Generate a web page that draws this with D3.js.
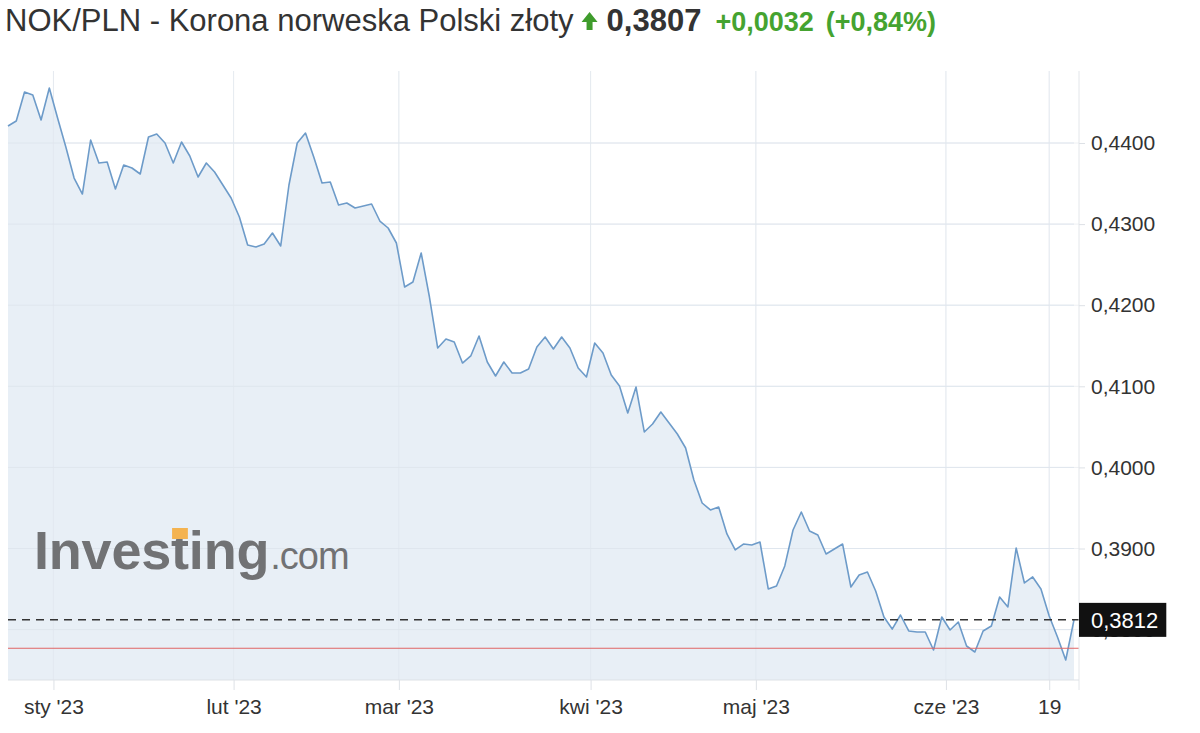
<!DOCTYPE html>
<html>
<head>
<meta charset="utf-8">
<script src="https://cdn.jsdelivr.net/npm/d3@7"></script>
<style>
  html, body { margin: 0; padding: 0; background: #fff; }
  svg { display: block; }
</style>
</head>
<body>
<svg id="chart" width="1200" height="733"></svg>
<script>
// ---- data ----
const titleText = "NOK/PLN - Korona norweska Polski złoty";
const lastPriceText = "0,3807";
const changeText = "+0,0032";
const changePctText = "(+0,84%)";

// daily closes, one per trading day (late Dec 2022 .. 21 Jun 2023)
const closes = [
  0.44210, 0.44271, 0.44629, 0.44592, 0.44284, 0.44678, 0.44308, 0.43951, 0.43568, 0.43371,
  0.44037, 0.43753, 0.43766, 0.43433, 0.43729, 0.43692, 0.43618, 0.44074, 0.44111, 0.44000,
  0.43753, 0.44012, 0.43840, 0.43581, 0.43753, 0.43642, 0.43482, 0.43322, 0.43088, 0.42742,
  0.42718, 0.42755, 0.42890, 0.42730, 0.43482, 0.44000, 0.44123, 0.43827, 0.43507, 0.43519,
  0.43236, 0.43260, 0.43199, 0.43223, 0.43248, 0.43038, 0.42952, 0.42767, 0.42224, 0.42286,
  0.42644, 0.42101, 0.41472, 0.41583, 0.41546, 0.41287, 0.41374, 0.41620, 0.41300, 0.41127,
  0.41300, 0.41164, 0.41164, 0.41213, 0.41485, 0.41608, 0.41460, 0.41608, 0.41472, 0.41226,
  0.41115, 0.41534, 0.41411, 0.41140, 0.41004, 0.40671, 0.40991, 0.40437, 0.40535, 0.40683,
  0.40547, 0.40412, 0.40239, 0.39845, 0.39561, 0.39475, 0.39512, 0.39179, 0.38982, 0.39055,
  0.39043, 0.39080, 0.38501, 0.38538, 0.38785, 0.39228, 0.39450, 0.39216, 0.39167, 0.38932,
  0.38994, 0.39055, 0.38525, 0.38673, 0.38710, 0.38476, 0.38155, 0.38007, 0.38180, 0.37983,
  0.37970, 0.37970, 0.37748, 0.38155, 0.37995, 0.38094, 0.37798, 0.37724, 0.37983, 0.38044,
  0.38402, 0.38279, 0.39006, 0.38575, 0.38649, 0.38501, 0.38168, 0.37909, 0.37625, 0.38120
];
const prevClose = 0.3777;        // red reference line
const xTickLabels = ["sty '23", "lut '23", "mar '23", "kwi '23", "maj '23", "cze '23", "19"];
const xTickIndex  = [5.5, 27.3, 47.3, 70.5, 90.5, 113.5, 126];
const yTickValues = [0.38, 0.39, 0.40, 0.41, 0.42, 0.43, 0.44];

// ---- layout ----
const svg = d3.select("#chart");
const plot = { left: 8, right: 1079, top: 71, bottom: 680 };
const x = d3.scaleLinear().domain([0, closes.length - 1]).range([8, 1074]);
const y = d3.scaleLinear().domain([0.39, 0.44]).range([548.5, 143]);
const loc = d3.formatLocale({ decimal: ",", thousands: " ", grouping: [3], currency: ["", ""] });
const fmt = loc.format(".4f");
const FONT = "'Liberation Sans', Arial, Helvetica, sans-serif";

// gridlines
const grid = svg.append("g");
grid.selectAll("line.h").data(yTickValues).join("line")
  .attr("x1", plot.left).attr("x2", plot.right)
  .attr("y1", d => y(d)).attr("y2", d => y(d))
  .attr("stroke", "#eef0f3").attr("stroke-width", 1);
grid.selectAll("line.v").data(xTickIndex).join("line")
  .attr("x1", d => x(d)).attr("x2", d => x(d))
  .attr("y1", plot.top).attr("y2", plot.bottom)
  .attr("stroke", "#eef0f3").attr("stroke-width", 1);

// area
const area = d3.area().x((d, i) => x(i)).y0(plot.bottom).y1(d => y(d));
svg.append("path").datum(closes).attr("d", area).attr("fill", "#e6edf5").attr("fill-opacity", 0.9);

// gridlines visible over fill (faint)
const grid2 = svg.append("g");
grid2.selectAll("line").data(yTickValues).join("line")
  .attr("x1", plot.left).attr("x2", x(closes.length - 1))
  .attr("y1", d => y(d)).attr("y2", d => y(d))
  .attr("stroke", "#dfe6ee").attr("stroke-width", 1);
grid2.selectAll("line.v").data(xTickIndex).join("line")
  .attr("class", "v")
  .attr("x1", d => x(d)).attr("x2", d => x(d))
  .attr("y1", plot.top).attr("y2", plot.bottom)
  .attr("stroke", "#dfe6ee").attr("stroke-opacity", 0.6).attr("stroke-width", 1);

// logo (watermark)
const logo = svg.append("g");
const inv = logo.append("text").attr("x", 34).attr("y", 569)
  .attr("font-family", FONT).attr("font-weight", "bold").attr("font-size", 54)
  .attr("letter-spacing", -0.2).attr("fill", "#717274").text("Investing");
const invW = inv.node().getComputedTextLength();
logo.append("text").attr("x", 34 + invW + 1).attr("y", 569)
  .attr("font-family", FONT).attr("font-size", 38).attr("letter-spacing", -1)
  .attr("fill", "#717274").text(".com");
// orange dot over the second "i"
const iStart = inv.node().getStartPositionOfChar(5);
const iEnd = inv.node().getEndPositionOfChar(5);
logo.append("rect").attr("x", iStart.x + 1).attr("y", 528)
  .attr("width", Math.max(8, iEnd.x - iStart.x - 2)).attr("height", 11)
  .attr("fill", "#f4b350");

// line
svg.append("path").datum(closes)
  .attr("d", d3.line().x((d, i) => x(i)).y(d => y(d)))
  .attr("fill", "none").attr("stroke", "#6d9bc9").attr("stroke-width", 1.6)
  .attr("stroke-linejoin", "round");

// red previous close line
svg.append("line").attr("x1", plot.left).attr("x2", plot.right)
  .attr("y1", y(prevClose)).attr("y2", y(prevClose))
  .attr("stroke", "#e06666").attr("stroke-width", 1);

// dashed last-price line
const last = closes[closes.length - 1];
svg.append("line").attr("x1", plot.left).attr("x2", plot.right)
  .attr("y1", y(last)).attr("y2", y(last))
  .attr("stroke", "#333").attr("stroke-width", 1.5).attr("stroke-dasharray", "8,6");

// axes frame
svg.append("line").attr("x1", plot.right).attr("x2", plot.right)
  .attr("y1", plot.top).attr("y2", plot.bottom + 10).attr("stroke", "#e3e6ea");
svg.append("line").attr("x1", plot.left).attr("x2", plot.right)
  .attr("y1", plot.bottom).attr("y2", plot.bottom).attr("stroke", "#dde1e6");

// y axis (the 0,3800 label sits partly under the price box, as in the reference)
const yAxis = svg.append("g").attr("transform", `translate(${plot.right},0)`)
  .call(d3.axisRight(y).tickValues(yTickValues).tickFormat(fmt).tickSize(6).tickPadding(6));
yAxis.select(".domain").remove();
yAxis.selectAll(".tick line").attr("stroke", "#dde1e6");
yAxis.selectAll(".tick text").attr("font-family", FONT).attr("font-size", 21).attr("fill", "#333");

// x axis
const xAxis = svg.append("g").attr("transform", `translate(0,${plot.bottom})`)
  .call(d3.axisBottom(x).tickValues(xTickIndex)
    .tickFormat((d, i) => xTickLabels[i]).tickSize(10).tickPadding(9));
xAxis.select(".domain").remove();
xAxis.selectAll(".tick line").attr("stroke", "#dde1e6");
xAxis.selectAll(".tick text").attr("font-family", FONT).attr("font-size", 21).attr("fill", "#333");

// last price label box
const lbl = svg.append("g");
const lblText = lbl.append("text").attr("x", plot.right + 12).attr("y", y(last))
  .attr("dy", "0.36em").attr("font-family", FONT).attr("font-size", 22)
  .attr("fill", "#fff").text(fmt(last));
const bb = lblText.node().getBBox();
lbl.insert("rect", "text").attr("x", plot.right).attr("y", y(last) - 17)
  .attr("width", bb.width + 20).attr("height", 34).attr("fill", "#111");

// title
const title = svg.append("g");
const t1 = title.append("text").attr("x", 5).attr("y", 31)
  .attr("font-family", FONT).attr("font-size", 31).attr("fill", "#333")
  .text(titleText);
let cx = 5 + t1.node().getComputedTextLength() + 8;
title.append("path")
  .attr("d", `M${cx},${22} L${cx + 8},${12} L${cx + 16},${22} L${cx + 11},${22} L${cx + 11},${30} L${cx + 5},${30} L${cx + 5},${22} Z`)
  .attr("fill", "#3f9c2c");
cx += 25;
const t2 = title.append("text").attr("x", cx).attr("y", 31)
  .attr("font-family", FONT).attr("font-weight", "bold").attr("font-size", 31)
  .attr("fill", "#333").text(lastPriceText);
cx += t2.node().getComputedTextLength() + 14;
const t3 = title.append("text").attr("x", cx).attr("y", 31)
  .attr("font-family", FONT).attr("font-weight", "bold").attr("font-size", 27)
  .attr("fill", "#45a330").text(changeText);
cx += t3.node().getComputedTextLength() + 12;
title.append("text").attr("x", cx).attr("y", 31)
  .attr("font-family", FONT).attr("font-weight", "bold").attr("font-size", 27)
  .attr("fill", "#45a330").text(changePctText);
</script>
</body>
</html>
